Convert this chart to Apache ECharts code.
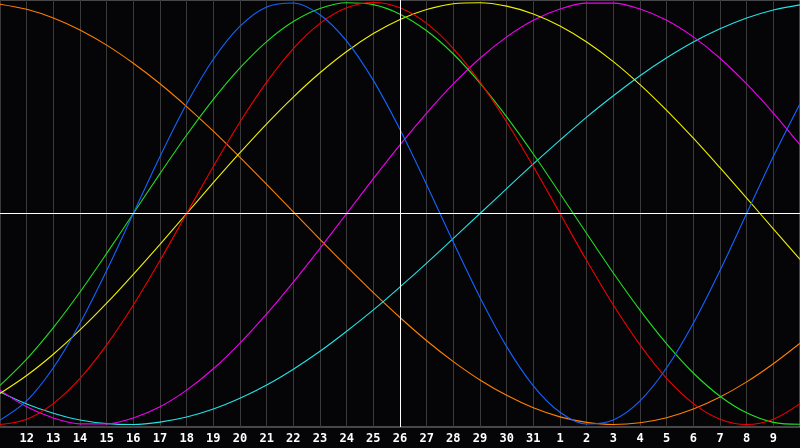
<!DOCTYPE html>
<html>
<head>
<meta charset="utf-8">
<script src="https://cdn.jsdelivr.net/npm/echarts@6/dist/echarts.min.js"></script>
<style>
html,body{margin:0;padding:0;background:#050508;}
#chart{width:800px;height:448px;}
</style>
</head>
<body>
<div id="chart"></div>
<script>
// Day labels (first and last sit on the plot edges and are not labelled)
var days = ['11','12','13','14','15','16','17','18','19','20','21','22','23','24','25','26','27','28','29','30','31','1','2','3','4','5','6','7','8','9','10'];
var centerDay = '26';

var orange = [0.992,0.968,0.927,0.870,0.798,0.712,0.615,0.507,0.390,0.266,0.138,0.008,-0.123,-0.251,-0.375,-0.493,-0.603,-0.702,-0.789,-0.862,-0.921,-0.964,-0.990,-1.000,-0.992,-0.968,-0.927,-0.870,-0.798,-0.712,-0.615];
var blue = [-0.979,-0.888,-0.731,-0.520,-0.270,0,0.270,0.520,0.731,0.888,0.979,0.998,0.942,0.817,0.631,0.398,0.136,-0.136,-0.398,-0.631,-0.817,-0.942,-0.998,-0.979,-0.888,-0.731,-0.520,-0.270,0,0.270,0.520];
var green = [-0.815,-0.690,-0.541,-0.372,-0.189,0,0.189,0.372,0.541,0.690,0.815,0.910,0.972,0.999,0.990,0.945,0.866,0.756,0.618,0.458,0.282,0.095,-0.095,-0.282,-0.458,-0.618,-0.756,-0.866,-0.945,-0.990,-0.999];
var red = [-1.000,-0.975,-0.901,-0.782,-0.623,-0.434,-0.223,0,0.223,0.434,0.623,0.782,0.901,0.975,1.000,0.975,0.901,0.782,0.623,0.434,0.223,0,-0.223,-0.434,-0.623,-0.782,-0.901,-0.975,-1.000,-0.975,-0.901];
var yellow = [-0.853,-0.768,-0.667,-0.552,-0.425,-0.288,-0.146,0,0.146,0.288,0.425,0.552,0.667,0.768,0.853,0.920,0.967,0.994,0.999,0.983,0.946,0.889,0.813,0.720,0.611,0.489,0.357,0.217,0.073,-0.073,-0.217];
var magenta = [-0.837,-0.916,-0.969,-0.997,-0.997,-0.969,-0.916,-0.837,-0.736,-0.614,-0.476,-0.325,-0.165,0,0.165,0.325,0.476,0.614,0.736,0.837,0.916,0.969,0.997,0.997,0.969,0.916,0.837,0.736,0.614,0.476,0.325];
var cyan = [-0.846,-0.903,-0.947,-0.979,-0.996,-1.000,-0.989,-0.965,-0.927,-0.876,-0.813,-0.738,-0.653,-0.558,-0.457,-0.348,-0.235,-0.118,0,0.118,0.235,0.348,0.457,0.558,0.653,0.738,0.813,0.876,0.927,0.965,0.989];

var seriesList = [
  {name:'orange', data:orange, color:'#ff7f00'},
  {name:'cyan', data:cyan, color:'#22e4e4'},
  {name:'magenta', data:magenta, color:'#f000f0'},
  {name:'yellow', data:yellow, color:'#f0f000'},
  {name:'green', data:green, color:'#20e020'},
  {name:'red', data:red, color:'#f00000'},
  {name:'blue', data:blue, color:'#1464ff'}
];

var chart = echarts.init(document.getElementById('chart'), null, {renderer:'canvas'});
var series = seriesList.map(function(s){
  return {
    name: s.name, type:'line', data: s.data, smooth: 0.33,
    showSymbol:false, symbol:'none',
    lineStyle:{color:s.color, width:1.1},
    itemStyle:{color:s.color},
    animation:false, silent:true, z: 3
  };
});
series.push({
  type:'line', data:[], silent:true, animation:false,
  markLine:{
    silent:true, symbol:['none','none'], animation:false,
    label:{show:false},
    lineStyle:{color:'#ffffff', width:1, type:'solid'},
    data:[{xAxis: days.indexOf(centerDay)}, {yAxis: 0}]
  },
  z: 2
});

chart.setOption({
  backgroundColor:'#050508',
  animation:false,
  grid:{left:0, right:0, top:0, bottom:21, show:true, borderColor:'#8a8a8a', borderWidth:1, backgroundColor:'transparent', containLabel:false, outerBoundsMode:'none'},
  xAxis:{
    type:'category', data:days, boundaryGap:false,
    axisLine:{show:true, lineStyle:{color:'#a0a0a0', width:1}},
    axisTick:{show:false},
    splitLine:{show:true, interval:0, lineStyle:{color:'#3a3a3a', width:1}},
    axisLabel:{
      interval:0, color:'#ffffff', fontFamily:'DejaVu Sans Mono', fontWeight:'bold', fontSize:12, margin:6,
      formatter:function(v, i){ return (i===0 || i===days.length-1) ? '' : v; }
    }
  },
  yAxis:{
    type:'value', min:-1.012, max:1.012,
    axisLine:{show:false}, axisTick:{show:false}, axisLabel:{show:false}, splitLine:{show:false}
  },
  series: series
});
</script>
</body>
</html>
